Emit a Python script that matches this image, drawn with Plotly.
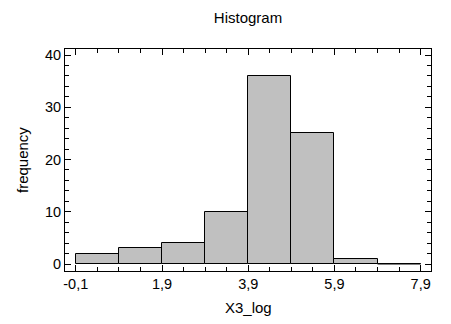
import plotly.graph_objects as go

# Data
bin_starts = [-0.1, 0.9, 1.9, 2.9, 3.9, 4.9, 5.9, 6.9]
bin_width = 1.0
counts = [2, 3, 4, 10, 36, 25, 1, 0]
x_tick_vals = [-0.1, 1.9, 3.9, 5.9, 7.9]
y_tick_vals = [0, 10, 20, 30, 40]

centers = [s + bin_width / 2 for s in bin_starts]

FONT = "Liberation Sans, Arial, sans-serif"
W, H = 451, 324
ML, MR, MT, MB = 65, 20, 49, 53
PW, PH = W - ML - MR, H - MT - MB

fig = go.Figure()
fig.add_trace(go.Bar(
    x=centers, y=counts, width=[bin_width] * len(counts),
    marker=dict(color="#C0C0C0", line=dict(color="black", width=1)),
    showlegend=False, hoverinfo="x+y",
))
# zero-count bins drawn as a flat outline at 0
for s, c in zip(bin_starts, counts):
    if c == 0:
        fig.add_trace(go.Scatter(
            x=[s, s + bin_width], y=[c, c], mode="lines",
            line=dict(color="black", width=1), showlegend=False, hoverinfo="skip",
        ))

axis_common = dict(
    showline=True, linecolor="black", linewidth=1, mirror="ticks",
    ticks="inside", tickcolor="black", tickwidth=1, showgrid=False,
    zeroline=False, automargin=False,
    tickfont=dict(family=FONT, size=14.5, color="black"),
)

fig.update_layout(
    width=W, height=H,
    margin=dict(l=ML, r=MR, t=MT, b=MB, autoexpand=False),
    paper_bgcolor="white", plot_bgcolor="white",
    separators=", ",
    bargap=0,
    title=dict(text="Histogram", x=0.5, xref="paper", y=1 - 18 / H,
               yanchor="middle", font=dict(family=FONT, size=15, color="black")),
    xaxis=dict(
        range=[-0.35, 8.14], tickmode="array", tickvals=x_tick_vals,
        ticktext=[f"{v:.1f}".replace(".", ",") for v in x_tick_vals],
        ticklen=6,
        minor=dict(ticks="inside", tick0=-0.1, dtick=0.5, ticklen=4, tickcolor="black"),
        **axis_common,
    ),
    yaxis=dict(
        range=[-1.34, 41.15], tickmode="array", tickvals=y_tick_vals,
        ticklen=6,
        minor=dict(ticks="inside", tick0=0, dtick=2, ticklen=4, tickcolor="black"),
        **axis_common,
    ),
    annotations=[
        dict(text="X3_log", xref="paper", yref="paper", x=0.5, y=-(307 - (H - MB)) / PH,
             xanchor="center", yanchor="middle", showarrow=False,
             font=dict(family=FONT, size=15, color="black")),
        dict(text="frequency", xref="paper", yref="paper", x=-(ML - 22) / PW, y=0.5,
             xanchor="center", yanchor="middle", textangle=-90, showarrow=False,
             font=dict(family=FONT, size=15, color="black")),
    ],
)

fig.write_html(
    "out.html",
    config={"displayModeBar": False},
    post_script="document.body.style.margin='0';document.body.style.padding='0';",
)
